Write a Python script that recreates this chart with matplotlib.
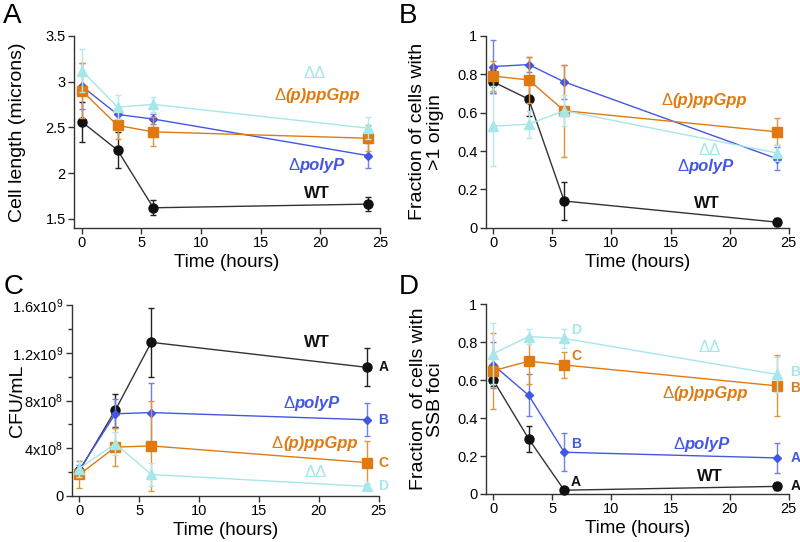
import matplotlib
matplotlib.use("Agg")
import matplotlib.pyplot as plt
from matplotlib.ticker import MultipleLocator, FixedLocator

plt.rcParams['font.family'] = ['Liberation Sans', 'DejaVu Sans']
plt.rcParams['mathtext.fontset'] = 'custom'
plt.rcParams['mathtext.rm'] = 'Liberation Sans'
plt.rcParams['mathtext.it'] = 'Liberation Sans:italic'
plt.rcParams['mathtext.bf'] = 'Liberation Sans:bold'

hours = [0, 3, 6, 24]

# A - cell length (microns)
length_wt = [2.56, 2.25, 1.62, 1.66]
length_wt_err = [0.22, 0.20, 0.08, 0.08]
length_polyp = [2.95, 2.64, 2.59, 2.19]
length_polyp_err = [0.25, 0.05, 0.05, 0.14]
length_ppgpp = [2.90, 2.52, 2.45, 2.38]
length_ppgpp_err = [0.30, 0.15, 0.16, 0.14]
length_dd = [3.12, 2.72, 2.75, 2.49]
length_dd_err = [0.23, 0.13, 0.08, 0.12]

# B - fraction of cells with >1 origin
ori_wt = [0.76, 0.67, 0.14, 0.03]
ori_wt_err = [0.06, 0.09, 0.10, 0.02]
ori_polyp = [0.84, 0.85, 0.76, 0.36]
ori_polyp_err = [0.14, 0.04, 0.09, 0.06]
ori_ppgpp = [0.79, 0.77, 0.61, 0.50]
ori_ppgpp_err = [0.08, 0.12, 0.24, 0.07]
ori_dd = [0.53, 0.54, 0.61, 0.39]
ori_dd_err = [0.21, 0.07, 0.08, 0.04]

# C - CFU/mL
cfu_wt = [2.1e8, 7.2e8, 1.29e9, 1.08e9]
cfu_wt_err = [0.3e8, 1.4e8, 2.9e8, 1.6e8]
cfu_polyp = [2.2e8, 6.9e8, 7.0e8, 6.4e8]
cfu_polyp_err = [0.4e8, 1.2e8, 2.5e8, 1.4e8]
cfu_ppgpp = [1.8e8, 4.1e8, 4.2e8, 2.8e8]
cfu_ppgpp_err = [1.1e8, 1.6e8, 3.8e8, 1.8e8]
cfu_dd = [2.3e8, 4.4e8, 1.8e8, 0.8e8]
cfu_dd_err = [0.7e8, 1.0e8, 1.0e8, 0.2e8]
cfu_ticks = [0, 4e8, 8e8, 1.2e9, 1.6e9]
cfu_ticklabels = ['0', '4x10$^{8}$', '8x10$^{8}$', '1.2x10$^{9}$', '1.6x10$^{9}$']
cfu_letters = ['A', 'B', 'C', 'D']

# D - fraction of cells with SSB foci
ssb_wt = [0.60, 0.29, 0.02, 0.04]
ssb_wt_err = [0.03, 0.07, 0.01, 0.02]
ssb_polyp = [0.68, 0.52, 0.22, 0.19]
ssb_polyp_err = [0.12, 0.11, 0.10, 0.08]
ssb_ppgpp = [0.65, 0.70, 0.68, 0.57]
ssb_ppgpp_err = [0.20, 0.12, 0.07, 0.16]
ssb_dd = [0.74, 0.83, 0.82, 0.63]
ssb_dd_err = [0.16, 0.04, 0.05, 0.09]
ssb_letters_6h = ['A', 'B', 'C', 'D']
ssb_letters_24h = ['A', 'A', 'B', 'B']

BLACK = '#111111'
BLUE = '#4257e3'
ORANGE = '#e07a10'
CYAN = '#a6e8ea'

# colour, line colour, errorbar colour, marker, size, zorder
styles = {
    'wt': (BLACK, '#333333', '#222222', 'o', 6.5, 3),
    'polyp': (BLUE, BLUE, '#6f80ea', 'D', 4.5, 4),
    'ppgpp': (ORANGE, ORANGE, '#e0943a', 's', 6.5, 5),
    'dd': (CYAN, CYAN, '#b5e8ec', '^', 6.5, 6),
}

fig = plt.figure(figsize=(8, 5.42), dpi=100)


def add_panel(rect, letter, letter_xy):
    ax = fig.add_axes(rect)
    ax.spines['top'].set_visible(False)
    ax.spines['right'].set_visible(False)
    for s in ('left', 'bottom'):
        ax.spines[s].set_color('#333333')
        ax.spines[s].set_linewidth(1.0)
    ax.tick_params(direction='out', length=4, width=1, pad=2, labelsize=10.5, color='#333333')
    ax.tick_params(which='minor', direction='out', length=3, width=1, color='#333333')
    ax.set_xlim(-0.65, 25)
    ax.xaxis.set_major_locator(MultipleLocator(5))
    fig.text(letter_xy[0], letter_xy[1], letter, fontsize=20, ha='left', va='top')
    ax.set_xlabel('Time (hours)', fontsize=13.5, labelpad=2.5)
    return ax


def draw(ax, key, y, err):
    c, lc, ec, m, ms, z = styles[key]
    ax.errorbar(hours, y, yerr=err, fmt='none', ecolor=ec, elinewidth=1, capsize=2, capthick=1, zorder=z)
    ax.plot(hours, y, '-', color=lc, lw=1, zorder=z)
    ax.plot(hours, y, m, color=c, ms=ms, mec=c, zorder=z + 0.5, clip_on=False)


def delta_label(ax, x, y, word, color, size=12):
    # word in bold italic, upright thin delta just before it
    t = ax.text(x + 0.42, y, word, color=color, fontsize=size, fontweight='bold',
                style='italic', ha='center', va='center')
    ax.annotate('Δ', xy=(0, 0.5), xycoords=t, color=color, fontsize=size,
                ha='right', va='center')


def label_strains(ax, pos, size=12):
    for k, (x, y) in pos.items():
        if k == 'wt':
            ax.text(x, y, 'WT', color=BLACK, fontsize=size, fontweight='bold', ha='center', va='center')
        elif k == 'dd':
            ax.text(x, y, 'ΔΔ', color=CYAN, fontsize=size, ha='center', va='center')
        elif k == 'polyp':
            delta_label(ax, x, y, 'polyP', BLUE, size)
        else:
            delta_label(ax, x, y, '(p)ppGpp', ORANGE, size)


# ---- A ----
axA = add_panel([0.0925, 0.5795, 0.3825, 0.3545], 'A', (0.004, 0.995))
draw(axA, 'wt', length_wt, length_wt_err)
draw(axA, 'polyp', length_polyp, length_polyp_err)
draw(axA, 'ppgpp', length_ppgpp, length_ppgpp_err)
draw(axA, 'dd', length_dd, length_dd_err)
axA.set_ylim(1.4, 3.5)
axA.set_yticks([1.5, 2, 2.5, 3, 3.5])
axA.set_yticklabels(['1.5', '2', '2.5', '3', '3.5'])
axA.set_ylabel('Cell length (microns)', fontsize=14)
axA.yaxis.set_label_coords(-0.185, 0.5)
axA.yaxis.label.set_va('center')
label_strains(axA, {'dd': (19.5, 3.09), 'ppgpp': (19.8, 2.85), 'polyp': (19.7, 2.08), 'wt': (19.7, 1.78)})

# ---- B ----
axB = add_panel([0.607, 0.5795, 0.379, 0.3545], 'B', (0.499, 0.995))
draw(axB, 'wt', ori_wt, ori_wt_err)
draw(axB, 'polyp', ori_polyp, ori_polyp_err)
draw(axB, 'ppgpp', ori_ppgpp, ori_ppgpp_err)
draw(axB, 'dd', ori_dd, ori_dd_err)
axB.set_ylim(0, 1)
axB.set_yticks([0, 0.2, 0.4, 0.6, 0.8, 1])
axB.set_yticklabels(['0', '0.2', '0.4', '0.6', '0.8', '1'])
axB.set_ylabel('Fraction of cells with\n>1 origin', fontsize=14, linespacing=1.05)
axB.yaxis.set_label_coords(-0.195, 0.5)
axB.yaxis.label.set_va('center')
label_strains(axB, {'ppgpp': (17.9, 0.665), 'dd': (18.3, 0.405), 'polyp': (18.0, 0.322), 'wt': (18.1, 0.127)})

# ---- C ----
axC = add_panel([0.0895, 0.085, 0.384, 0.3515], 'C', (0.004, 0.494))
draw(axC, 'wt', cfu_wt, cfu_wt_err)
draw(axC, 'polyp', cfu_polyp, cfu_polyp_err)
draw(axC, 'ppgpp', cfu_ppgpp, cfu_ppgpp_err)
draw(axC, 'dd', cfu_dd, cfu_dd_err)
axC.set_ylim(0, 1.6e9)
axC.set_yticks(cfu_ticks)
axC.set_yticklabels(cfu_ticklabels)
axC.yaxis.set_minor_locator(FixedLocator([2e8, 6e8, 1.0e9, 1.4e9]))
axC.set_ylabel('CFU/mL', fontsize=14)
axC.yaxis.set_label_coords(-0.175, 0.5)
axC.yaxis.label.set_va('center')
label_strains(axC, {'wt': (19.8, 1.29e9), 'polyp': (19.4, 0.78e9), 'ppgpp': (19.7, 0.44e9), 'dd': (19.7, 0.2e9)})
for k, y, l in zip(['wt', 'polyp', 'ppgpp', 'dd'], [cfu_wt[3], cfu_polyp[3], cfu_ppgpp[3], cfu_dd[3]], cfu_letters):
    axC.text(25.4, y, l, color=styles[k][0], fontsize=10, fontweight='bold', ha='center', va='center')

# ---- D ----
axD = add_panel([0.607, 0.0886, 0.379, 0.35], 'D', (0.499, 0.494))
draw(axD, 'wt', ssb_wt, ssb_wt_err)
draw(axD, 'polyp', ssb_polyp, ssb_polyp_err)
draw(axD, 'ppgpp', ssb_ppgpp, ssb_ppgpp_err)
draw(axD, 'dd', ssb_dd, ssb_dd_err)
axD.set_ylim(0, 1)
axD.set_yticks([0, 0.2, 0.4, 0.6, 0.8, 1])
axD.set_yticklabels(['0', '0.2', '0.4', '0.6', '0.8', '1'])
axD.set_ylabel('Fraction  of cells with\nSSB foci', fontsize=14, linespacing=1.05)
axD.yaxis.set_label_coords(-0.193, 0.5)
axD.yaxis.label.set_va('center')
label_strains(axD, {'dd': (18.3, 0.77), 'ppgpp': (18.0, 0.53), 'polyp': (17.7, 0.26), 'wt': (18.3, 0.09)})
keys = ['wt', 'polyp', 'ppgpp', 'dd']
for k, y, l in zip(keys, [ssb_wt[2], ssb_polyp[2], ssb_ppgpp[2], ssb_dd[2]], ssb_letters_6h):
    axD.text(7.0, y + 0.045, l, color=styles[k][0], fontsize=10, fontweight='bold', ha='center', va='center')
# small vertical nudges so the 24 h letters do not collide
nudge_24h = [0.0, 0.0, -0.01, 0.015]
for k, y, l, dy in zip(keys, [ssb_wt[3], ssb_polyp[3], ssb_ppgpp[3], ssb_dd[3]], ssb_letters_24h, nudge_24h):
    axD.text(25.55, y + dy, l, color=styles[k][0], fontsize=10, fontweight='bold', ha='center', va='center')

fig.savefig('out.png', dpi=100)
